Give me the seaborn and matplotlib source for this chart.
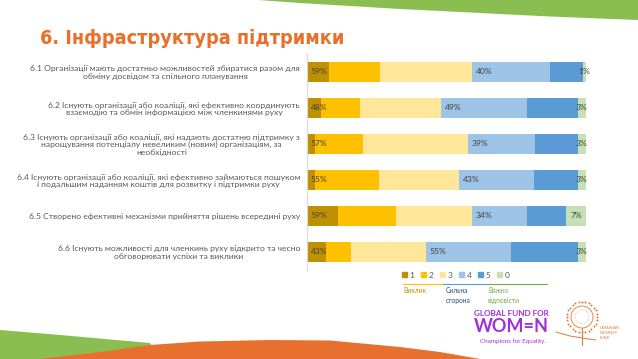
import numpy as np
import pandas as pd
import matplotlib
matplotlib.use("Agg")
import matplotlib.pyplot as plt
from matplotlib.patches import Patch, Polygon, Circle
import seaborn as sns

# ===============================
# DATA
# ===============================
questions = [
    "6.1 Організації мають достатньо можливостей збиратися разом для\nобміну досвідом та спільного планування",
    "6.2 Існують організації або коаліції, які ефективно координують\nвзаємодію та обмін інформацією між членкинями руху",
    "6.3 Існують організації або коаліції, які надають достатню підтримку з\nнарощування потенціалу невеликим (новим) організаціям, за\nнеобхідності",
    "6.4 Існують організації або коаліції, які ефективно займаються пошуком\nі подальшим наданням коштів для розвитку і підтримки руху",
    "6.5 Створено ефективні механізми прийняття рішень всередині руху",
    "6.6 Існують можливості для членкинь руху відкрито та чесно\nобговорювати успіхи та виклики",
]
score_1 = [8, 5, 3, 3, 11, 7]
score_2 = [18, 14, 17, 23, 21, 9]
score_3 = [33, 29, 37, 29, 27, 27]
score_4 = [28, 31, 24, 27, 20, 31]
score_5 = [12, 18, 15, 16, 14, 24]
score_0 = [1, 3, 3, 3, 7, 3]
legend_labels = ["1", "2", "3", "4", "5", "0"]
colors = ["#BF9000", "#FFC000", "#FFE699", "#9DC3E6", "#5B9BD5", "#C5E0B4"]

# ===============================
# PREP
# ===============================
seg = np.array([score_1, score_2, score_3, score_4, score_5, score_0], dtype=float)
seg = seg / seg.sum(axis=0) * 100          # 100% stacked, like the original
cum = np.cumsum(seg, axis=0)

df = pd.DataFrame({"question": questions})
for k in range(6):
    df[f"c{k}"] = cum[k]

# ===============================
# FIGURE
# ===============================
sns.set_theme(style="white")
plt.rcParams["font.family"] = ["Lato", "DejaVu Sans"]

fig = plt.figure(figsize=(6.38, 3.59), dpi=100)
W, H = 638, 359

# decoration layer in pixel coordinates
deco = fig.add_axes([0, 0, 1, 1], zorder=0)
deco.set_xlim(0, W)
deco.set_ylim(H, 0)
deco.axis("off")

green = "#8BBE50"
orange = "#E8702F"
deco.add_patch(Polygon([(258, 0), (300, 3), (350, 6), (400, 9), (450, 11.5), (500, 14),
                        (550, 16.5), (600, 18.5), (638, 20), (638, 0)],
                       closed=True, color=green, lw=0))
deco.add_patch(Polygon([(0, 330), (60, 335), (150, 343), (160, 359), (0, 359)],
                       closed=True, color=green, lw=0))
deco.add_patch(Polygon([(40, 359), (100, 352), (150, 345), (200, 341.5), (270, 340),
                        (330, 340.5), (400, 347), (440, 352), (480, 359)],
                       closed=True, color=orange, lw=0))

# title
fig.text(40 / W, 1 - 44 / H, "6. Інфраструктура підтримки", color="#E8702A",
         fontsize=14.2, fontweight="bold", fontstretch="condensed", va="baseline",
         family=["DejaVu Sans"])

# ===============================
# STACKED BARS
# ===============================
ax = fig.add_axes([307 / W, 1 - 270 / H, 279 / W, 216 / H], zorder=1)
ax.patch.set_alpha(0)
for k in range(5, -1, -1):
    sns.barplot(data=df, x=f"c{k}", y="question", color=colors[k], orient="h",
                width=0.58, saturation=1, ax=ax, linewidth=0)

ax.set_xlim(0, 100)
ax.set_xlabel("")
ax.set_ylabel("")
ax.set_xticks([])
for s in ["top", "right", "bottom"]:
    ax.spines[s].set_visible(False)
ax.spines["left"].set_color("#D9D9D9")
ax.spines["left"].set_linewidth(0.8)
ax.tick_params(axis="y", length=0, pad=5)
for t in ax.get_yticklabels():
    t.set_fontsize(6.1)
    t.set_color("#595959")
    t.set_multialignment("center")
    t.set_linespacing(1.1)

lab_kw = dict(fontsize=6.1, color="#404040", va="center")
for i in range(len(questions)):
    low = round(score_1[i] + score_2[i] + score_3[i])
    high = round(score_4[i] + score_5[i])
    ax.text(1.4, i, f"{low}%", ha="left", **lab_kw)
    ax.text(cum[2][i] + 1.4, i, f"{high}%", ha="left", **lab_kw)
    ax.text((cum[4][i] + cum[5][i]) / 2, i, f"{score_0[i]}%", ha="center", **lab_kw)

# legend
handles = [Patch(color=c) for c in colors]
fig.legend(handles, legend_labels, ncol=6, loc="center", frameon=False,
           bbox_to_anchor=(456 / W, 1 - 275 / H), fontsize=6, labelcolor="#595959",
           handlelength=0.6, handleheight=0.6, handletextpad=0.3, columnspacing=0.8)

# group labels under the legend
deco.plot([403, 443], [284, 284], color="#FFC000", lw=0.8)
deco.plot([443, 487], [284, 284], color="#5B9BD5", lw=0.8)
deco.plot([487, 547], [284, 284], color="#70AD47", lw=0.8)
deco.text(403, 287, "Виклик", color="#BF9000", fontsize=4.8, va="top")
deco.text(446, 287, "Сильна\nсторона", color="#1F4E79", fontsize=4.8, va="top", linespacing=1.5)
deco.text(488, 287, "Важко\nвідповісти", color="#70AD47", fontsize=4.8, va="top", linespacing=1.5)

# logos (as text / simple shapes)
purple = "#A030D8"
deco.text(511, 313, "GLOBAL FUND FOR", color=purple, fontsize=5.9, fontweight="bold",
          ha="center", va="center")
deco.text(511, 327, "WOM=N", color=purple, fontsize=13, fontweight="bold",
          ha="center", va="center")
deco.text(513, 341, "Champions for Equality.", color=purple, fontsize=4.5,
          ha="center", va="center")

uo = "#E07A3A"
ang = np.linspace(0, 2 * np.pi, 28, endpoint=False)
deco.scatter(582 + 15 * np.cos(ang), 317 + 15 * np.sin(ang), s=2, color=uo, lw=0)
deco.add_patch(Circle((582, 317), 11, fill=False, ec=uo, lw=0.6))
deco.add_patch(Circle((582, 317), 7, fill=False, ec=uo, lw=0.4, ls=":"))
deco.plot([582, 582], [328, 345], color=uo, lw=0.8)
deco.plot([556, 570, 582, 596], [332, 336, 338, 340], color=uo, lw=0.7)
deco.text(600, 333, "UKRAINIAN\nWOMEN'S\nFUND", color=uo, fontsize=2.6,
          va="center", ha="left", linespacing=1.4)

fig.savefig("out.png", dpi=100)
